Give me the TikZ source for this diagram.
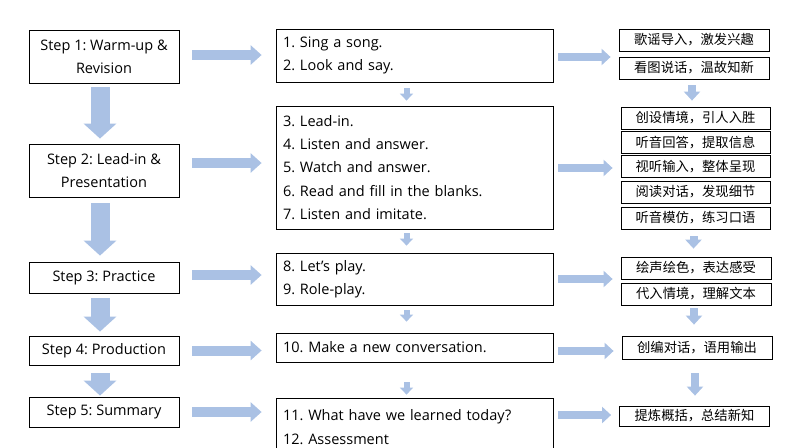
\documentclass[tikz,border=0pt]{standalone}
\usepackage{fontspec}
\setmainfont{Open Sans}
\newfontfamily\cjk{Noto Sans CJK SC}
\usetikzlibrary{positioning,arrows.meta,calc}
\definecolor{paleblue}{RGB}{170,193,228}
\frenchspacing
\tikzset{
  stepbox/.style={draw,align=center,font=\fontsize{14.5}{23}\selectfont,minimum width=150pt,inner sep=3pt,line width=0.8pt},
  taskbox/.style={draw,align=left,text width=263pt,inner xsep=7pt,inner ysep=2pt,font=\fontsize{14.5}{23.3}\selectfont,line width=0.8pt},
  aimbox/.style={draw,minimum width=150pt,minimum height=22pt,inner sep=1pt,font=\cjk\fontsize{13.3}{15}\selectfont,line width=0.8pt},
  flowR/.style={paleblue,line width=10pt,-{Triangle[width=19pt,length=11pt]}},
  flowM/.style={paleblue,line width=8pt,-{Triangle[width=16pt,length=9pt]}},
  flowD/.style={paleblue,line width=19pt,-{Triangle[width=32pt,length=15pt]}},
  flowS/.style={paleblue,line width=6pt,-{Triangle[width=13pt,length=7pt]}},
}

\begin{document}
\begin{tikzpicture}[x=1pt,y=-1pt]
  \clip (0,0) rectangle (794,447);
  \useasboundingbox (0,0) rectangle (794,447);
  % teaching steps
  \node[stepbox,minimum height=53pt] (s1) at (104,56.5) {Step 1: Warm-up \&\\Revision};
  \node[stepbox,minimum height=53pt] (s2) at (104,170.5) {Step 2: Lead-in \&\\Presentation};
  \node[stepbox,minimum height=31pt] (s3) at (104,277.5) {Step 3: Practice};
  \node[stepbox,minimum height=29pt] (s4) at (104,350.5) {Step 4: Production};
  \node[stepbox,minimum height=30pt] (s5) at (104,412) {Step 5: Summary};
  % activities
  \node[taskbox,minimum height=53pt] (m1) at (414.5,55.5) {1. Sing a song.\\2. Look and say.};
  \node[taskbox,minimum height=123pt] (m2) at (414.5,167.5) {3. Lead-in.\\4. Listen and answer.\\5. Watch and answer.\\6. Read and fill in the blanks.\\7. Listen and imitate.};
  \node[taskbox,minimum height=52pt] (m3) at (414.5,279) {8. Let's play.\\9. Role-play.};
  \node[taskbox,minimum height=29pt] (m4) at (414.5,347.5) {10. Make a new conversation.};
  \node[taskbox,minimum height=58pt] (m5) at (414.5,427) {11. What have we learned today?\\12. Assessment};
  % aims
  \node[aimbox] (r1) at (694,40) {歌谣导入，激发兴趣};
  \node[aimbox] (r2) at (694,68) {看图说话，温故知新};
  \node[aimbox,minimum width=149pt] (r3) at (695.5,118) {创设情境，引人入胜};
  \node[aimbox,minimum width=149pt] (r4) at (695.5,142.5) {听音回答，提取信息};
  \node[aimbox,minimum width=149pt] (r5) at (695.5,166.5) {视听输入，整体呈现};
  \node[aimbox,minimum width=149pt] (r6) at (695.5,192) {阅读对话，发现细节};
  \node[aimbox,minimum width=149pt] (r7) at (695.5,218) {听音模仿，练习口语};
  \node[aimbox] (r8) at (696,268) {绘声绘色，表达感受};
  \node[aimbox] (r9) at (696,294) {代入情境，理解文本};
  \node[aimbox,minimum height=23pt] (r10) at (697,347.5) {创编对话，语用输出};
  \node[aimbox,minimum height=20pt] (r11) at (694.5,416) {提炼概括，总结新知};

  % step -> activity -> aim
  \foreach \i/\dy in {1/1.5,2/7.5,3/2.5,4/0,5/0}
    \draw[flowR,shorten <=13pt,shorten >=14pt] ([yshift=\dy pt]s\i.east) -- ([yshift=\dy pt]s\i.east -| m\i.west);
  \foreach \i/\j/\dy in {1/1/-1.5,2/5/-0.5,3/8/0,4/10/-3.5,5/11/12}
    \draw[flowM,shorten <=5pt,shorten >=8pt] ([yshift=\dy pt]m\i.east) -- ([yshift=\dy pt]m\i.east -| r\j.west);
  % downward
  \foreach \a/\b/\p/\q in {1/2/4/5,2/3/6/6,3/4/5/4,4/5/8/1}
    \draw[flowD,shorten <=\p pt,shorten >=\q pt] ([xshift=-4pt]s\a.south) -- ([xshift=-4pt]s\a.south |- s\b.north);
  \foreach \a/\b/\p/\q in {1/2/6/5,2/3/4/7,3/4/5/11,4/5/20/3}
    \draw[flowS,shorten <=\p pt,shorten >=\q pt] ([xshift=-8pt]m\a.south) -- ([xshift=-8pt]m\a.south |- m\b.north);
  \foreach \a/\b/\p/\q in {2/3/6/6,7/8/7/8,9/10/3/11,10/11/14/10}
    \draw[flowM,shorten <=\p pt,shorten >=\q pt] ([xshift=-2pt]r\a.south) -- ([xshift=-2pt]r\a.south |- r\b.north);
\end{tikzpicture}
\end{document}
